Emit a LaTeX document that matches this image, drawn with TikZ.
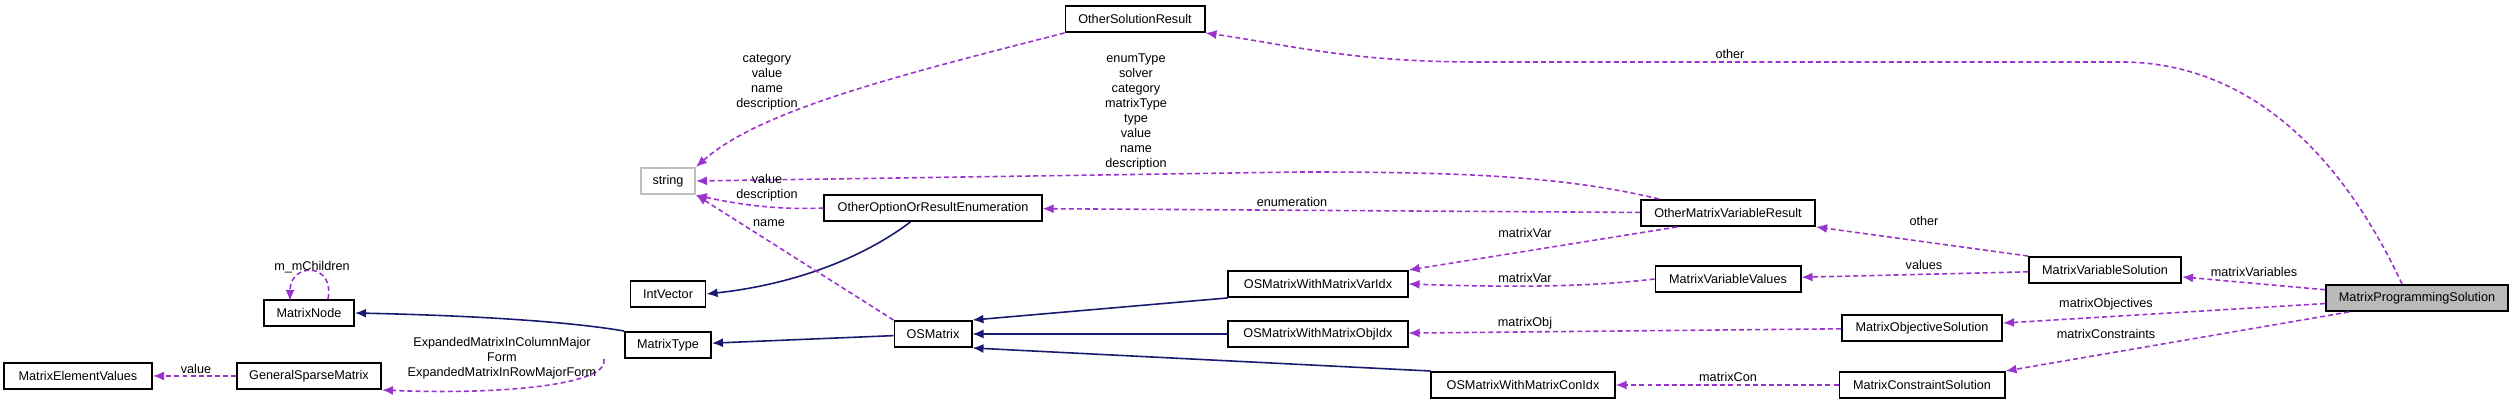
\documentclass[tikz,border=0pt]{standalone}
\usepackage{fontspec}
\setmainfont{Liberation Sans}
\usetikzlibrary{arrows.meta}

\definecolor{usecol}{HTML}{9A32CD}
\definecolor{inhcol}{HTML}{191970}

\tikzset{
  cls/.style={draw=black, line width=0.55pt, fill=white, inner sep=0pt,
    minimum height=0.26cm, font=\fontsize{3.6}{4.3}\selectfont},
  lbl/.style={inner sep=0pt, align=center, font=\fontsize{3.6}{4.3}\selectfont},
  use/.style={draw=usecol, line width=0.45pt, dash pattern=on 1.4pt off 0.9pt,
    -{Latex[length=1.1mm,width=0.9mm]}},
  inh/.style={draw=inhcol, line width=0.45pt,
    -{Latex[length=1.1mm,width=0.9mm]}}
}

\begin{document}
\begin{tikzpicture}[x=0.01cm, y=-0.01cm]
\useasboundingbox (0,0) rectangle (2515,404);

% classes
\node[cls, minimum width=1.39cm] (osr) at (1135,19) {OtherSolutionResult};
\node[cls, draw=black!25, minimum width=0.54cm] (str) at (668,181) {string};
\node[cls, minimum width=2.17cm] (oore) at (933,208) {OtherOptionOrResultEnumeration};
\node[cls, minimum width=0.75cm] (ivec) at (668,294) {IntVector};
\node[cls, minimum width=0.90cm] (mnode) at (309,313) {MatrixNode};
\node[cls, minimum width=0.86cm] (mtype) at (668,345) {MatrixType};
\node[cls, minimum width=1.48cm] (mev) at (78,376) {MatrixElementValues};
\node[cls, minimum width=1.44cm] (gsm) at (309,376) {GeneralSparseMatrix};
\node[cls, minimum width=0.77cm] (osm) at (933,334) {OSMatrix};
\node[cls, minimum width=1.79cm] (varidx) at (1318,284) {OSMatrixWithMatrixVarIdx};
\node[cls, minimum width=1.79cm] (objidx) at (1318,334) {OSMatrixWithMatrixObjIdx};
\node[cls, minimum width=1.83cm] (conidx) at (1523,385) {OSMatrixWithMatrixConIdx};
\node[cls, minimum width=1.74cm] (omvr) at (1728,213) {OtherMatrixVariableResult};
\node[cls, minimum width=1.45cm] (mvv) at (1728,279) {MatrixVariableValues};
\node[cls, minimum width=1.52cm] (mvs) at (2105,270) {MatrixVariableSolution};
\node[cls, minimum width=1.60cm] (mos) at (1922,328) {MatrixObjectiveSolution};
\node[cls, minimum width=1.65cm] (mcs) at (1922,385) {MatrixConstraintSolution};
\node[cls, fill=black!27, minimum width=1.82cm] (mps) at (2417,298) {MatrixProgrammingSolution};

% inheritance
\draw[inh] (oore.south west) ++(87,0) .. controls (860,260) and (790,285) .. (ivec.east);
\draw[inh] (mtype.north west) .. controls (560,320) and (450,315) .. (mnode.east);
\draw[inh] (osm) -- (mtype);
\draw[inh] (varidx.south west) -- (osm.north east);
\draw[inh] (objidx) -- (osm);
\draw[inh] (conidx.north west) -- (osm.south east);

% usage
\draw[use] (mps.north) ++(-15,0) .. controls (2330,130) and (2230,62) .. (2121,62)
  -- (1478,62) .. controls (1350,62) and (1290,45) .. (osr.south east);
\draw[use] (osr.south west) .. controls (900,75) and (760,110) .. (str.north east);
\draw[use] (omvr.north west) ++(19,0) .. controls (1560,175) and (1450,172) .. (1300,172) -- (str.east);
\draw[use] (oore.west) .. controls (780,210) and (740,205) .. (str.south east);
\draw[use] (osm.north west) -- (str.south east);
\draw[use] (mtype.south west) ++(-20,0) .. controls (610,385) and (500,395) .. (gsm.south east);
\draw[use] (gsm) -- (mev);
\draw[use] (mnode.north) ++(19,0) .. controls (335,262) and (290,262) .. (290,301);
\draw[use] (omvr) -- (oore);
\draw[use] (omvr.south west) ++(37,0) -- (varidx.north east);
\draw[use] (mvv.west) .. controls (1580,288) and (1500,287) .. (varidx.east);
\draw[use] (mvs.north west) -- (omvr.south east);
\draw[use] (mvs) -- (mvv);
\draw[use] (mos) -- (objidx);
\draw[use] (mcs) -- (conidx);
\draw[use] (mps) -- (mvs);
\draw[use] (mps) -- (mos);
\draw[use] (mps.south west) ++(24,0) -- (mcs.north east);

% labels
\node[lbl] (lstrA) at (767,82) {category\\value\\name\\description};
\node[lbl] (lstrB) at (1136,112) {enumType\\solver\\category\\matrixType\\type\\value\\name\\description};
\node[lbl] (lstrC) at (767,188) {value\\description};
\node[lbl] (lname) at (769,223) {name};
\node[lbl] (lchild) at (312,267) {m\_mChildren};
\node[lbl] (lvalue) at (196,369) {value};
\node[lbl] (lexp) at (502,358) {ExpandedMatrixInColumnMajor\\Form\\ExpandedMatrixInRowMajorForm};
\node[lbl] (lother) at (1730,54) {other};
\node[lbl] (lenum) at (1292,202) {enumeration};
\node[lbl] (lvarA) at (1525,233) {matrixVar};
\node[lbl] (lvarB) at (1525,278) {matrixVar};
\node[lbl] (lobj) at (1525,323) {matrixObj};
\node[lbl] (lcon) at (1728,377) {matrixCon};
\node[lbl] (lotherB) at (1924,221) {other};
\node[lbl] (lvals) at (1924,265) {values};
\node[lbl] (lmvars) at (2254,272) {matrixVariables};
\node[lbl] (lmobj) at (2106,304) {matrixObjectives};
\node[lbl] (lmcon) at (2106,334) {matrixConstraints};
\end{tikzpicture}
\end{document}
